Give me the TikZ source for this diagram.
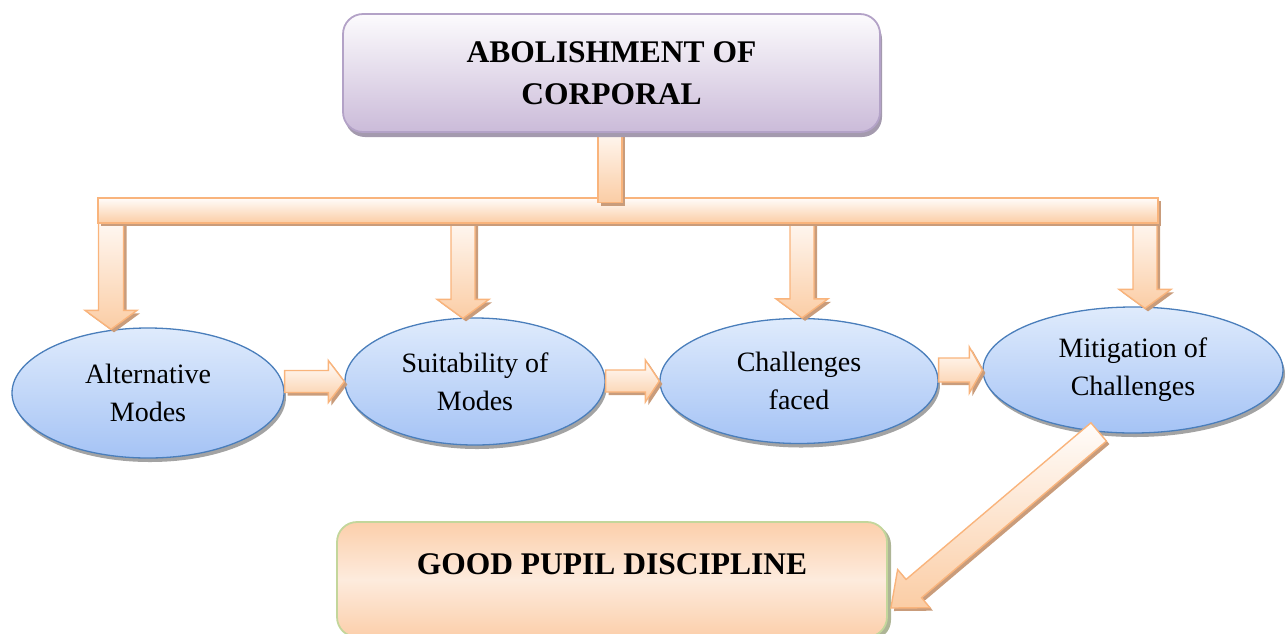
\documentclass[tikz,border=0pt]{standalone}
\usepackage{fontspec}
\setmainfont{Liberation Serif}
\usetikzlibrary{shapes.geometric,shadows,calc}

% palette
\definecolor{arrowedge}{HTML}{F9B47C}
\definecolor{arrowlight}{HTML}{FFFCFA}
\definecolor{arrowdark}{HTML}{FBCDA5}
\definecolor{arrowshade}{HTML}{C99C7B}
\definecolor{ovaledge}{HTML}{4A7EBB}
\definecolor{ovaltop}{HTML}{DFEBFC}
\definecolor{ovalbottom}{HTML}{A5C3F5}
\definecolor{ovalshade}{HTML}{A3A3A3}
\definecolor{titleedge}{HTML}{B3A2C7}
\definecolor{titletop}{HTML}{FCFBFD}
\definecolor{titlebottom}{HTML}{CBBBD9}
\definecolor{titleshade}{HTML}{A49AAE}
\definecolor{goaledge}{HTML}{C3D69B}
\definecolor{goalorange}{HTML}{FBC090}
\definecolor{goallight}{HTML}{FDEBDD}
\definecolor{goalshade}{HTML}{AEB596}

\tikzset{
  oval/.style={ellipse, draw=ovaledge, line width=1.3pt,
    top color=ovaltop, bottom color=ovalbottom, inner sep=0pt,
    align=center, font=\fontsize{28}{38}\selectfont,
    drop shadow={shadow xshift=2pt, shadow yshift=-4pt, fill=ovalshade, opacity=1}},
  titlebox/.style={rectangle, rounded corners=20pt, draw=titleedge, line width=1.8pt,
    top color=titletop, bottom color=titlebottom, align=center,
    font=\bfseries\fontsize{31.5}{42}\selectfont,
    drop shadow={shadow xshift=2pt, shadow yshift=-5pt, fill=titleshade, opacity=1}},
  goalbox/.style={rectangle, rounded corners=20pt, draw=goaledge, line width=1.8pt,
    fill=goallight, font=\bfseries\fontsize{31.5}{42}\selectfont,
    drop shadow={shadow xshift=4pt, shadow yshift=-3pt, fill=goalshade, opacity=1},
    path picture={
      \shade[top color=goalorange, bottom color=goalorange, middle color=goallight,
        rotate around={-9:(path picture bounding box.center)}]
        ($(path picture bounding box.center)+(-330,-88)$) rectangle
        ($(path picture bounding box.center)+(330,88)$);
    }},
  arrowbody/.style={draw=arrowedge, line width=1.4pt, line join=miter,
    top color=arrowlight, bottom color=arrowdark,
    drop shadow={shadow xshift=3pt, shadow yshift=-3pt, fill=arrowshade, opacity=1}},
}

% block arrow from #2 to #3: shaft half width #4, head half width #5, head length #6
\newcommand\fatarrow[6][]{%
  \coordinate (fa-base) at ($(#3)!#6!(#2)$);
  \path[arrowbody,#1]
    ($(#2)!#4!90:(#3)$) -- ($(fa-base)!#4!90:(#3)$) -- ($(fa-base)!#5!90:(#3)$)
    -- (#3)
    -- ($(fa-base)!#5!-90:(#3)$) -- ($(fa-base)!#4!-90:(#3)$) -- ($(#2)!#4!-90:(#3)$)
    -- cycle;
}

\begin{document}
\begin{tikzpicture}[x=1pt, y=-1pt]
\useasboundingbox (0,0) rectangle (1287,633);
\clip (0,0) rectangle (1287,633);

% the four stages
\node[oval, minimum width=272pt, minimum height=130pt] (e1) at (148,393) {Alternative\\Modes};
\node[oval, minimum width=260pt, minimum height=127pt] (e2) at (475,381.5) {Suitability of\\Modes};
\node[oval, minimum width=278pt, minimum height=125pt] (e3) at (799,381) {Challenges\\faced};
\node[oval, minimum width=300pt, minimum height=126pt] (e4) at (1133,370) {Mitigation of\\Challenges};

% distribution bar and its drop arrows
\coordinate (bar-w) at (98,210.5);
\coordinate (bar-e) at (1158,210.5);
\coordinate (d1) at (111,210);
\coordinate (d2) at (463,210);
\coordinate (d3) at (802,210);
\coordinate (d4) at (1145,210);
\coordinate (d1t) at ($(d1 |- e1.north)+(0,2)$);
\coordinate (d2t) at ($(d2 |- e2.north)+(0,1)$);
\coordinate (d3t) at ($(d3 |- e3.north)+(0,0)$);
\coordinate (d4t) at ($(d4 |- e4.north)+(0,2)$);
\fatarrow{d1}{d1t}{12.5pt}{26pt}{19pt}
\fatarrow{d2}{d2t}{12pt}{26pt}{19pt}
\fatarrow{d3}{d3t}{12pt}{26pt}{19pt}
\fatarrow{d4}{d4t}{12pt}{26pt}{19pt}

\path[arrowbody] ($(bar-w)+(0,-12.5)$) rectangle ($(bar-e)+(0,12.5)$);

% stem from the title down to the bar, then the title over it
\coordinate (top-c) at (611.5,73);
\coordinate (stem-t) at ($(top-c)+(-1.5,50)$);
\coordinate (stem-b) at ($(stem-t |- bar-w)+(0,-8)$);
\path[arrowbody] ($(stem-t)+(-12,0)$) rectangle ($(stem-b)+(12,0)$);
\node[titlebox, minimum width=537pt, minimum height=118pt] (top) at (top-c)
  {ABOLISHMENT OF\\CORPORAL};

% arrows between stages
\coordinate (h1) at (e1.east |- e2.west);
\coordinate (h2) at (e2.east |- e3.west);
\coordinate (h3) at (e3.east |- e4.west);
\fatarrow{h1}{e2.west}{11pt}{21pt}{16pt}
\fatarrow{h2}{e3.west}{11pt}{21pt}{14pt}
\fatarrow{h3}{e4.west}{12pt}{23pt}{13pt}

% outcome
\node[goalbox, minimum width=550pt, minimum height=115pt, text height=22pt, text depth=33pt]
  (gpd) at (612,579.5) {GOOD PUPIL DISCIPLINE};
\coordinate (dg-s) at (e4.241);
\coordinate (dg-t) at ($(gpd.east)+(3,28.5)$);
\fatarrow{dg-s}{dg-t}{12pt}{25pt}{30pt}
\end{tikzpicture}
\end{document}
